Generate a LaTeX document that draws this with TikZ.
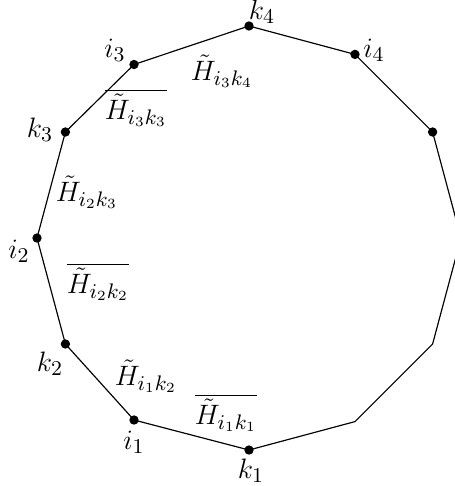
\documentclass[tikz,border=0pt]{standalone}
\usetikzlibrary{calc}
\begin{document}
\begin{tikzpicture}[x=0.4274pt,y=-0.4274pt,
  dot/.style={circle,fill=black,inner sep=0pt,minimum size=4pt},
  lab/.style={inner sep=0pt,font=\fontsize{12.5}{15}\selectfont},
  edge/.style={line width=0.5pt}]
\useasboundingbox (0,0) rectangle (455,486);
\begin{scope}
\clip (0,0) rectangle (455,486);
\coordinate (c) at (249,238);
\foreach \n/\a in {k4/90,i4/60,r1/30,r2/0,r3/-30,r4/-60,k1/-90,k2/-150,i2/180,k3/150}{
  \coordinate (\n) at ($(c)+({212*cos(\a)},{-212*sin(\a)})$);
}
\coordinate (i3) at (134,64.5);
\coordinate (i1) at (134,420);
\draw[edge] (k4)--(i4)--(r1)--(r2)--(r3)--(r4)--(k1)--(i1)--(k2)--(i2)--(k3)--(i3)--cycle;
\end{scope}
\foreach \n in {k4,i4,r1,k1,i1,k2,i2,k3,i3}{ \node[dot] (d\n) at (\n) {}; }
\node[lab] (lk4) at (262,12) {$k_4$};
\node[lab] (li4) at (374,50) {$i_4$};
\node[lab] (li3) at (115,50) {$i_3$};
\node[lab] (lk3) at (40,130) {$k_3$};
\node[lab] (li2) at (19,251) {$i_2$};
\node[lab] (lk2) at (50,364) {$k_2$};
\node[lab] (li1) at (134,442) {$i_1$};
\node[lab] (lk1) at (251,471) {$k_1$};
\node[lab] (h34) at (222,71) {$\tilde H_{i_3k_4}$};
\node[lab] (h33) at (136,108) {$\overline{\tilde H_{i_3k_3}}$};
\node[lab] (h23) at (87,192) {$\tilde H_{i_2k_3}$};
\node[lab] (h22) at (98,282) {$\overline{\tilde H_{i_2k_2}}$};
\node[lab] (h12) at (146,376) {$\tilde H_{i_1k_2}$};
\node[lab] (h11) at (226,413) {$\overline{\tilde H_{i_1k_1}}$};
\end{tikzpicture}
\end{document}
